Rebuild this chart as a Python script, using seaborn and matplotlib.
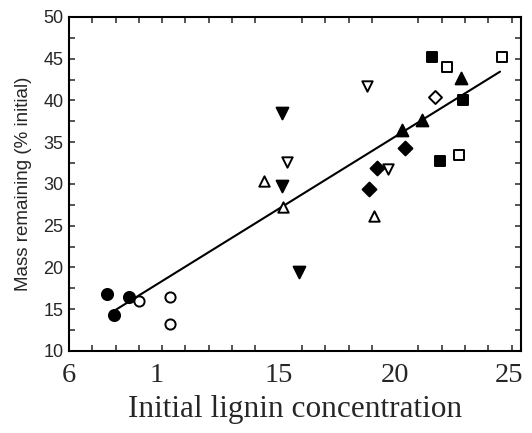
import matplotlib
matplotlib.use("Agg")
import matplotlib.pyplot as plt
import seaborn as sns
import pandas as pd

# ---- data ----
filled_circle_x = [7.62, 7.93, 8.59]
filled_circle_y = [16.8, 14.3, 16.5]
open_circle_x = [9.02, 10.33, 10.33]
open_circle_y = [16.0, 16.5, 13.2]
open_tri_up_x = [14.37, 15.20, 19.09]
open_tri_up_y = [30.3, 27.2, 26.2]
filled_tri_down_x = [15.16, 15.13, 15.87]
filled_tri_down_y = [38.5, 29.8, 19.5]
open_tri_down_x = [15.37, 18.78, 19.71]
open_tri_down_y = [32.6, 41.7, 31.8]
filled_diamond_x = [18.88, 19.24, 20.42]
filled_diamond_y = [29.4, 31.9, 34.3]
open_diamond_x = [21.71]
open_diamond_y = [40.4]
filled_tri_up_x = [20.28, 21.17, 22.82]
filled_tri_up_y = [36.5, 37.7, 42.7]
filled_square_x = [21.60, 21.92, 22.90]
filled_square_y = [45.2, 32.7, 40.1]
open_square_x = [22.21, 22.76, 24.57]
open_square_y = [44.0, 33.5, 45.2]

fit_x = [7.93, 24.50]
fit_y = [14.8, 43.45]

xtick_pos = [6, 9.75, 15, 20, 24.87]
xtick_labels = ["6", "1", "15", "20", "25"]
ytick_vals = [10, 15, 20, 25, 30, 35, 40, 45, 50]

groups = [
    ("filled_circle", filled_circle_x, filled_circle_y, "o", True, 64),
    ("open_circle", open_circle_x, open_circle_y, "o", False, 54),
    ("open_tri_up", open_tri_up_x, open_tri_up_y, "^", False, 56),
    ("filled_tri_down", filled_tri_down_x, filled_tri_down_y, "v", True, 72),
    ("open_tri_down", open_tri_down_x, open_tri_down_y, "v", False, 56),
    ("filled_diamond", filled_diamond_x, filled_diamond_y, "D", True, 50),
    ("open_diamond", open_diamond_x, open_diamond_y, "D", False, 44),
    ("filled_tri_up", filled_tri_up_x, filled_tri_up_y, "^", True, 72),
    ("filled_square", filled_square_x, filled_square_y, "s", True, 56),
    ("open_square", open_square_x, open_square_y, "s", False, 50),
]

rows = []
for name, xs, ys, *_ in groups:
    for x, y in zip(xs, ys):
        rows.append({"group": name, "x": x, "y": y})
df = pd.DataFrame(rows)
fit_df = pd.DataFrame({"x": fit_x, "y": fit_y})

sns.set_style("white")
plt.rcParams["font.family"] = ["Liberation Sans", "DejaVu Sans"]

fig = plt.figure(figsize=(5.32, 4.33), dpi=100)
ax = fig.add_axes([0.1297, 0.1894, 0.8496, 0.7714])

sns.lineplot(data=fit_df, x="x", y="y", ax=ax, color="black", linewidth=1.5,
             zorder=2, estimator=None, sort=False)

for name, xs, ys, marker, filled, size in groups:
    sub = df[df["group"] == name]
    sns.scatterplot(data=sub, x="x", y="y", ax=ax, marker=marker, s=size,
                    color="black" if filled else "white",
                    edgecolor="black", linewidth=1.4, zorder=3, legend=False)

ax.set_xlim(6.0, 25.4)
ax.set_ylim(10, 50)

# x ticks: labels (no marks) and integer marks (no labels)
ax.set_xticks(xtick_pos)
ax.set_xticklabels(xtick_labels, fontfamily="Liberation Serif", fontsize=20.5)
ax.set_xticks(list(range(6, 26)), minor=True)
ax.tick_params(axis="x", which="major", length=0, pad=9)
ax.tick_params(axis="x", which="minor", direction="in", length=4, width=1.1,
               top=True, bottom=True)

ax.set_yticks(ytick_vals)
ax.set_yticklabels([str(v) for v in ytick_vals], fontsize=13)
ax.set_yticks([v + 2.5 for v in ytick_vals[:-1]], minor=True)
ax.tick_params(axis="y", which="both", direction="in", length=4, width=1.1,
               left=True, right=True, pad=4)

for sp in ax.spines.values():
    sp.set_linewidth(1.5)
    sp.set_color("black")

ax.set_xlabel("Initial lignin concentration", fontfamily="Liberation Serif",
              fontsize=22.5, labelpad=5)
ax.set_ylabel("Mass remaining (% initial)", fontsize=13.5, labelpad=8)

fig.savefig("out.png", dpi=100)
